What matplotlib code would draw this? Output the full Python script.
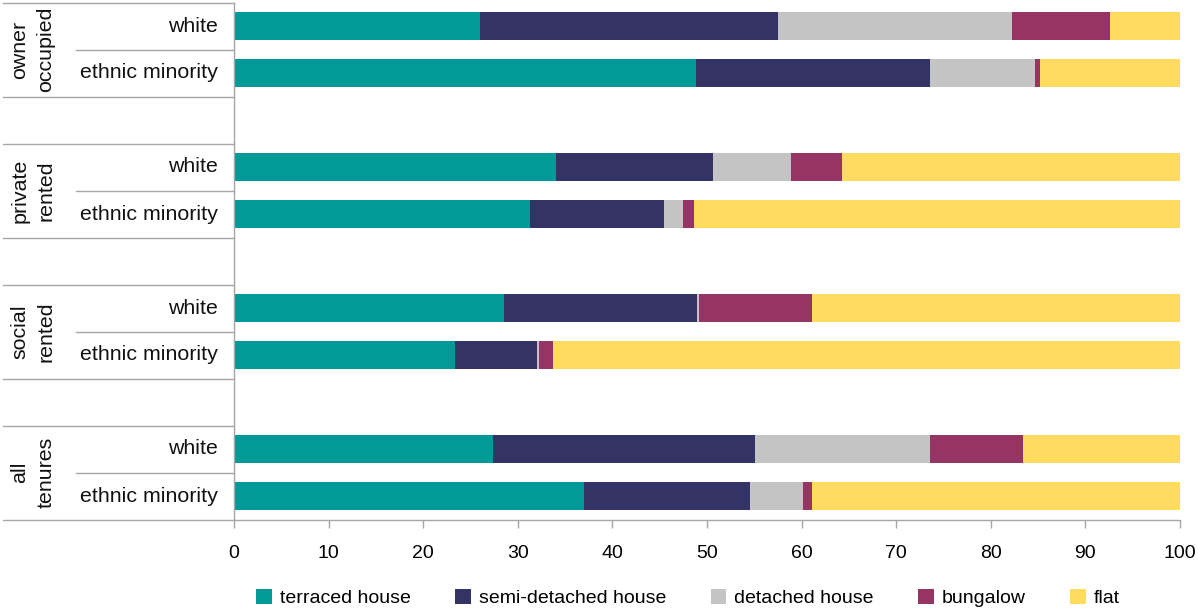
import matplotlib
matplotlib.use("Agg")
import matplotlib.pyplot as plt
from matplotlib.lines import Line2D
import numpy as np

plt.rcParams['font.family'] = ['Liberation Sans', 'DejaVu Sans']

groups = ["owner\noccupied", "private\nrented", "social\nrented", "all\ntenures"]
subgroups = ["white", "ethnic minority"]
series = ["terraced house", "semi-detached house", "detached house", "bungalow", "flat"]
colors = ["#019A99", "#333366", "#C4C4C4", "#963464", "#FFDC5F"]

# order per bar: owner white, owner EM, private white, private EM, social white, social EM, all white, all EM
terraced = [26.0, 48.8, 34.0, 31.3, 28.5, 23.4, 27.4, 37.0]
semi     = [31.5, 24.8, 16.6, 14.2, 20.4,  8.6, 27.7, 17.5]
detached = [24.7, 11.1,  8.3,  2.0,  0.3,  0.2, 18.5,  5.6]
bungalow = [10.4,  0.5,  5.4,  1.1, 11.9,  1.5,  9.8,  1.0]
flat     = [ 7.4, 14.8, 35.7, 51.4, 38.9, 66.3, 16.6, 38.9]
data = [terraced, semi, detached, bungalow, flat]

fig = plt.figure(figsize=(11.98, 6.08), dpi=100)
ax = fig.add_axes([234/1198, 1 - 519.5/608, (1180-234)/1198, (519.5-2.5)/608])

ypos = []
for g in range(len(groups)):
    ypos += [3*g, 3*g + 1]
ypos = np.array(ypos)

left = np.zeros(len(ypos))
for vals, col, name in zip(data, colors, series):
    ax.barh(ypos, vals, left=left, height=0.575, color=col, label=name, linewidth=0)
    left += np.array(vals)

ax.set_xlim(0, 100)
ax.set_ylim(10.5, -0.5)
ax.set_xticks(np.arange(0, 101, 10))
ax.set_yticks([])
ax.tick_params(axis='x', length=6, width=1, color='#A6A6A6', labelsize=14, pad=12)
for s in ['top', 'right']:
    ax.spines[s].set_visible(False)
for s in ['left', 'bottom']:
    ax.spines[s].set_color('#A6A6A6')
    ax.spines[s].set_linewidth(1)

# left-side category labels and separator lines
trans = ax.get_yaxis_transform()
x_full = -234/946
x_sub = -(234-76)/946
lc = '#A6A6A6'
for y in [-0.5, 1.5, 2.5, 4.5, 5.5, 7.5, 8.5, 10.5]:
    ax.add_line(Line2D([x_full + 3/946, 0], [y, y], transform=trans, color=lc, lw=1, clip_on=False))
for g in range(len(groups)):
    ax.add_line(Line2D([x_sub, 0], [3*g + 0.5, 3*g + 0.5], transform=trans, color=lc, lw=1, clip_on=False))
    for k, sg in enumerate(subgroups):
        ax.text(-16/946, 3*g + k, sg, transform=trans, ha='right', va='center', fontsize=15.4, color='#111111')
    ax.text(-(234-33)/946, 3*g + 0.5, groups[g], transform=trans, ha='center', va='center',
            rotation=90, fontsize=15.4, color='#111111', multialignment='center', linespacing=1.45)

handles, labels = ax.get_legend_handles_labels()
fig.legend(handles, labels, loc='center', bbox_to_anchor=(688/1198, 1 - 598/608), ncol=5,
           frameon=False, fontsize=14, handlelength=0.8, handleheight=0.8, handletextpad=0.4,
           columnspacing=2.3)

fig.savefig("out.png", dpi=100)
